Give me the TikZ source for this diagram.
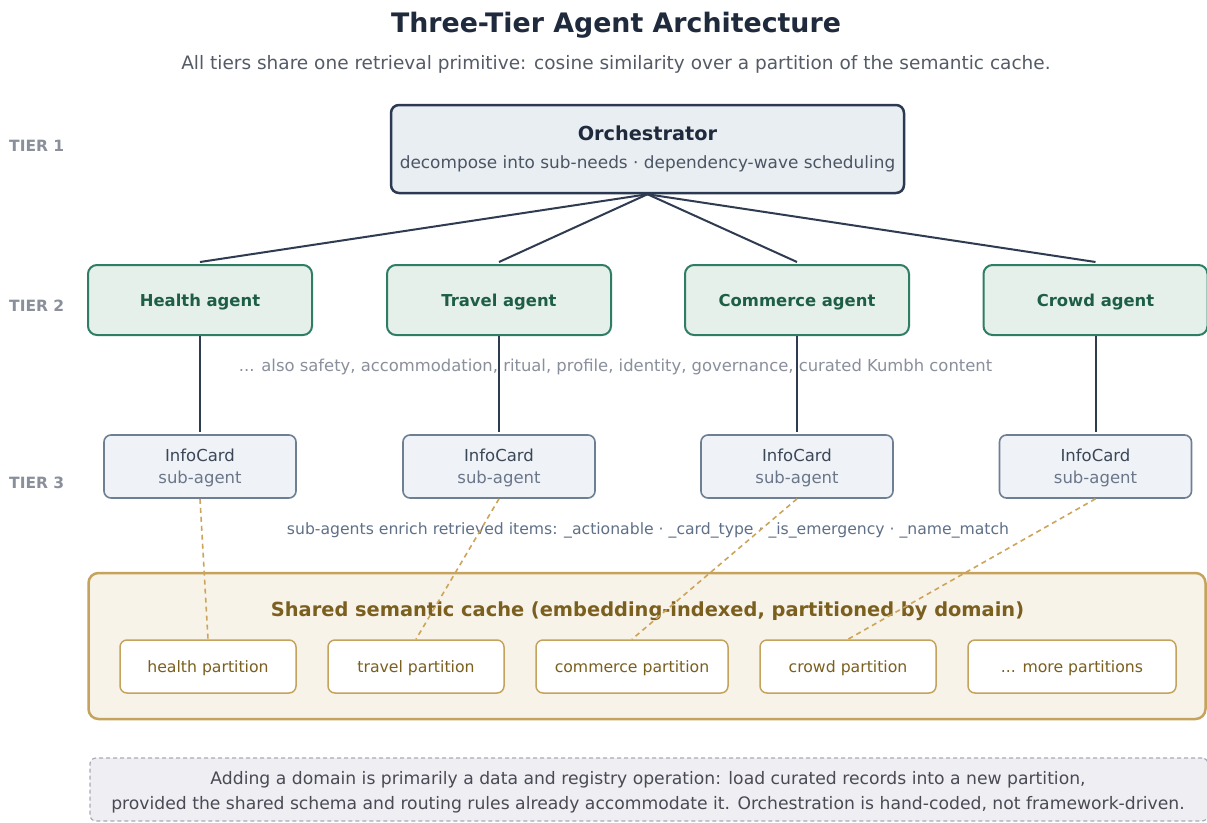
\documentclass[tikz,border=0pt]{standalone}
\usepackage{fontspec}
\setmainfont{DejaVu Sans}
\usetikzlibrary{positioning}

\definecolor{orchfill}{HTML}{E9EEF3}
\definecolor{orchline}{HTML}{2B3A52}
\definecolor{orchtext}{HTML}{1F2A3D}
\definecolor{orchsub}{HTML}{4B5563}
\definecolor{agentfill}{HTML}{E4F0E9}
\definecolor{agentline}{HTML}{2E7D64}
\definecolor{agenttext}{HTML}{1E5E47}
\definecolor{cardfill}{HTML}{EFF3F8}
\definecolor{cardline}{HTML}{6E7E93}
\definecolor{cardtext}{HTML}{3B4657}
\definecolor{cardsub}{HTML}{6B7688}
\definecolor{wire}{HTML}{2F3B50}
\definecolor{muted}{HTML}{8A8F9C}
\definecolor{slate}{HTML}{5F7088}
\definecolor{cachefill}{HTML}{F8F3E8}
\definecolor{cacheline}{HTML}{C5A35C}
\definecolor{goldlink}{HTML}{CCA55A}
\definecolor{cachetext}{HTML}{7A5F1F}
\definecolor{notefill}{HTML}{EEEEF3}
\definecolor{noteline}{HTML}{A9AAB5}
\definecolor{notetext}{HTML}{4A4A55}
\definecolor{subtitle}{HTML}{555B66}

\newcommand{\fs}[1]{\fontsize{#1}{#1}\selectfont}

\tikzset{
  x=1pt, y=-1pt,
  orchbox/.style={draw=orchline, fill=orchfill, line width=2.5pt, rounded corners=8pt,
    minimum width=513pt, minimum height=88pt, inner sep=0pt},
  agentbox/.style={draw=agentline, fill=agentfill, line width=2pt, rounded corners=9pt,
    minimum width=224pt, minimum height=70pt, inner sep=0pt,
    text height=12pt, text depth=0pt,
    font=\fs{16.4}\bfseries, text=agenttext},
  cardbox/.style={draw=cardline, fill=cardfill, line width=1.6pt, rounded corners=7pt,
    minimum width=192pt, minimum height=63pt, inner sep=0pt},
  partbox/.style={draw=cacheline, fill=white, line width=1.5pt, rounded corners=7pt,
    minimum height=53pt, inner sep=0pt, text height=11.5pt, text depth=0pt,
    font=\fs{15.7}, text=cachetext},
  tierlabel/.style={font=\fs{15.5}\bfseries, text=muted, anchor=west, inner sep=0pt},
  wireline/.style={draw=wire, line width=2pt},
  goldline/.style={draw=goldlink, line width=1.6pt, dash pattern=on 5pt off 4pt},
}

\begin{document}
\begin{tikzpicture}
\useasboundingbox (0,0) rectangle (1207,822);
\clip (0,0) rectangle (1207,822);
\fill[white] (0,0) rectangle (1207,822);

% heading
\node[font=\fs{26.8}\bfseries, text=orchtext] (title) at (616,25) {Three-Tier Agent Architecture};
\node[font=\fs{18.5}, text=subtitle] (subtitle) at (616,64)
  {All tiers share one retrieval primitive: cosine similarity over a partition of the semantic cache.};

% tier labels
\node[tierlabel] (t1) at (9,146) {TIER 1};
\node[tierlabel] (t2) at (9,306) {TIER 2};
\node[tierlabel] (t3) at (9,483) {TIER 3};

% tier 1
\node[orchbox] (orch) at (647.5,149) {};
\node[font=\fs{19.3}\bfseries, text=orchtext] (orchname) at (647.5,133) {Orchestrator};
\node[font=\fs{16.9}, text=orchsub] (orchdesc) at (647.5,164)
  {decompose into sub-needs · dependency-wave scheduling};

% tier 2
\node[agentbox] (health) at (200,300) {Health agent};
\node[agentbox] (travel) at (499,300) {Travel agent};
\node[agentbox] (commerce) at (797,300) {Commerce agent};
\node[agentbox] (crowd) at (1095.5,300) {Crowd agent};

\foreach \a in {health,travel,commerce,crowd}
  \draw[wireline] (orch.south) -- ([yshift=2pt]\a.north);

\node[font=\fs{16.4}, text=muted] (also) at (615.5,367)
  {... also safety, accommodation, ritual, profile, identity, governance, curated Kumbh content};

% tier 3
\foreach \n/\x in {hcard/200, tcard/499, ccard/797, wcard/1095.5}{
  \node[cardbox] (\n) at (\x,466.5) {};
  \node[font=\fs{16.5}, text=cardtext] (\n-a) at (\x,455) {InfoCard};
  \node[font=\fs{16.5}, text=cardsub] (\n-b) at (\x,479) {sub-agent};
}

\draw[wireline] (health.south) -- ([yshift=2pt]hcard.north);
\draw[wireline] (travel.south) -- ([yshift=2pt]tcard.north);
\draw[wireline] (commerce.south) -- ([yshift=2pt]ccard.north);
\draw[wireline] (crowd.south) -- ([yshift=2pt]wcard.north);

\node[font=\fs{15.65}, text=slate] (enrich) at (648,530)
  {sub-agents enrich retrieved items: \_actionable · \_card\_type · \_is\_emergency · \_name\_match};

% shared cache
\node[draw=cacheline, fill=cachefill, line width=2.5pt, rounded corners=10pt,
  minimum width=1117pt, minimum height=146pt, inner sep=0pt] (cache) at (647,646) {};
\node[font=\fs{19.4}\bfseries, text=cachetext] (cachetitle) at (647.5,611)
  {Shared semantic cache (embedding-indexed, partitioned by domain)};

\node[partbox, minimum width=176pt] (phealth) at (208,666.5) {health partition};
\node[partbox, minimum width=176pt] (ptravel) at (416,666.5) {travel partition};
\node[partbox, minimum width=192pt] (pcommerce) at (632,666.5) {commerce partition};
\node[partbox, minimum width=176pt] (pcrowd) at (848,666.5) {crowd partition};
\node[partbox, minimum width=208pt] (pmore) at (1072,666.5) {... more partitions};

\draw[goldline] (hcard.south) -- (phealth.north);
\draw[goldline] (tcard.south) -- (ptravel.north);
\draw[goldline] (ccard.south) -- (pcommerce.north);
\draw[goldline] (wcard.south) -- (pcrowd.north);

% footnote
\node[draw=noteline, fill=notefill, line width=1.2pt, dash pattern=on 4pt off 3pt,
  rounded corners=6pt, minimum width=1118pt, minimum height=63pt, inner sep=0pt] (note) at (649,789.5) {};
\node[font=\fs{17.2}, text=notetext] (note1) at (648,780)
  {Adding a domain is primarily a data and registry operation: load curated records into a new partition,};
\node[font=\fs{17.2}, text=notetext] (note2) at (648,805)
  {provided the shared schema and routing rules already accommodate it. Orchestration is hand-coded, not framework-driven.};
\end{tikzpicture}
\end{document}
